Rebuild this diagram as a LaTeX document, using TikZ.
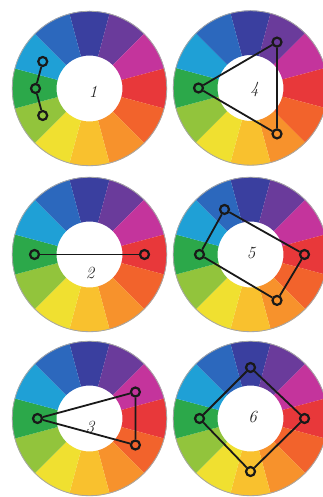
\documentclass[tikz,border=0pt]{standalone}
\usetikzlibrary{calc}
\definecolor{cA}{HTML}{3A3F9F}
\definecolor{cB}{HTML}{6A3B9B}
\definecolor{cC}{HTML}{C4349C}
\definecolor{cD}{HTML}{E8383A}
\definecolor{cE}{HTML}{F2632C}
\definecolor{cF}{HTML}{F7922C}
\definecolor{cG}{HTML}{F9C12E}
\definecolor{cH}{HTML}{F0E030}
\definecolor{cI}{HTML}{92C43C}
\definecolor{cJ}{HTML}{2CA84A}
\definecolor{cK}{HTML}{1FA0D6}
\definecolor{cL}{HTML}{2C68BD}
\tikzset{
  mk/.style={circle, draw=black!90, line width=2.2pt, minimum size=9pt, inner sep=0pt},
  conn/.style={draw=black!90, line width=1.8pt},
  lbl/.style={font=\fontsize{17}{20}\selectfont\itshape, text=black!85, inner sep=0pt}
}
\newcommand\colwheel{%
  \foreach \col [count=\i from 0] in {cA,cB,cC,cD,cE,cF,cG,cH,cI,cJ,cK,cL} {
    \pgfmathsetmacro\aa{105-30*\i}
    \pgfmathsetmacro\bb{75-30*\i}
    \fill[\col] (\aa:77.5pt) arc[start angle=\aa, end angle=\bb, radius=77.5pt]
      -- (\bb:33pt) arc[start angle=\bb, end angle=\aa, radius=33pt] -- cycle;
  }
  \draw[black!35, line width=0.8pt] (0,0) circle[radius=77.2pt];
}
\begin{document}
\begin{tikzpicture}[x=1pt,y=1pt]
\fill[white] (0,0) rectangle (323,497);
\useasboundingbox (0,0) rectangle (323,497);

% wheel 1: analogous
\begin{scope}[shift={(89.5,408.5)}]
  \colwheel
  \node[mk] (w1a) at (150:54pt) {};
  \node[mk] (w1b) at (180:54pt) {};
  \node[mk] (w1c) at (210:54pt) {};
  \draw[conn] (w1a) -- (w1b) -- (w1c);
  \node[lbl] (l1) at (3.5,-3.5) {1};
\end{scope}

% wheel 4: triad
\begin{scope}[shift={(250.5,409)}]
  \colwheel
  \node[mk] (w4a) at (60:53pt) {};
  \node[mk] (w4b) at (180:52pt) {};
  \node[mk] (w4c) at (300:53pt) {};
  \draw[conn] (w4a) -- (w4b) -- (w4c) -- (w4a);
  \node[lbl] (l4) at (4,-2) {4};
\end{scope}

% wheel 2: complementary
\begin{scope}[shift={(89.5,242.5)}]
  \colwheel
  \node[mk] (w2a) at (180:55pt) {};
  \node[mk] (w2b) at (0:55pt) {};
  \draw[conn] (w2a) -- (w2b);
  \node[lbl] (l2) at (0.5,-18.5) {2};
\end{scope}

% wheel 5: rectangle
\begin{scope}[shift={(250.5,242.5)}]
  \colwheel
  \node[mk] (w5a) at (120:52pt) {};
  \node[mk] (w5b) at (0:54pt) {};
  \node[mk] (w5c) at (300:53pt) {};
  \node[mk] (w5d) at (180:51pt) {};
  \draw[conn] (w5a) -- (w5b) -- (w5c) -- (w5d) -- (w5a);
  \node[lbl] (l5) at (0.5,1.5) {5};
\end{scope}

% wheel 3: split complementary
\begin{scope}[shift={(89.5,78.5)}]
  \colwheel
  \node[mk] (w3a) at (180:52pt) {};
  \node[mk] (w3b) at (30:53pt) {};
  \node[mk] (w3c) at (330:53pt) {};
  \draw[conn] (w3a) -- (w3b) -- (w3c) -- (w3a);
  \node[lbl] (l3) at (0.5,-8.5) {3};
\end{scope}

% wheel 6: square
\begin{scope}[shift={(250.5,78.5)}]
  \colwheel
  \node[mk] (w6a) at (90:51pt) {};
  \node[mk] (w6b) at (0:54pt) {};
  \node[mk] (w6c) at (270:53pt) {};
  \node[mk] (w6d) at (180:51pt) {};
  \draw[conn] (w6a) -- (w6b) -- (w6c) -- (w6d) -- (w6a);
  \node[lbl] (l6) at (2,1.5) {6};
\end{scope}
\end{tikzpicture}
\end{document}
